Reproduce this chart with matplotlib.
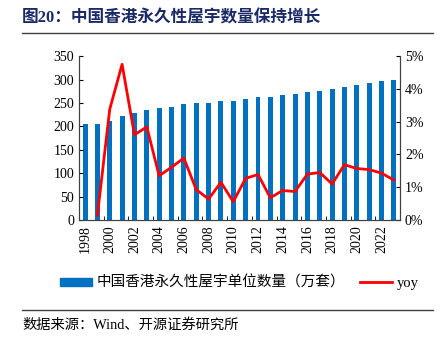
import matplotlib
matplotlib.use("Agg")
import matplotlib.pyplot as plt
from matplotlib.lines import Line2D
from matplotlib.patches import Patch
from matplotlib.ticker import FuncFormatter

plt.rcParams['font.family'] = ['Liberation Serif', 'Noto Sans CJK SC', 'DejaVu Sans']

years = list(range(1998, 2024))
stock = [205, 205, 212, 222, 228.5, 235, 238.5, 242, 247, 249, 250.5, 254, 255,
         258, 262, 263, 266, 269, 272.5, 276, 280, 284, 289, 293, 297, 300]
yoy_years = list(range(1999, 2024))
yoy = [0.14, 3.38, 4.75, 2.6, 2.84, 1.35, 1.61, 1.89, 0.93, 0.64, 1.15, 0.56, 1.27,
       1.39, 0.68, 0.9, 0.87, 1.40, 1.45, 1.10, 1.69, 1.57, 1.54, 1.43, 1.22]

bar_name = "中国香港永久性屋宇单位数量（万套）"
line_name = "yoy"
title = "图20：中国香港永久性屋宇数量保持增长"
source = "数据来源：Wind、开源证券研究所"

fig = plt.figure(figsize=(4.43, 3.38), dpi=100)
ax = fig.add_axes([0.178, 0.349, 0.725, 0.485])
ax2 = ax.twinx()

x = list(range(len(years)))
ax.bar(x, stock, width=0.4, color="#0070C0")
xi = [years.index(y) for y in yoy_years]
ax2.plot(xi, [v / 100 for v in yoy], color="#FF0000", lw=2)

ax.set_xlim(-0.5, len(years) - 0.5)
ax.set_ylim(0, 350)
ax.set_yticks(range(0, 351, 50))
ax2.set_ylim(0, 0.05)
ax2.set_yticks([i / 100 for i in range(6)])
ax2.yaxis.set_major_formatter(FuncFormatter(lambda v, p: f"{v*100:.0f}%"))

ax.set_xticks(x[::2])
ax.set_xticklabels([str(y) for y in years[::2]], rotation=90, fontsize=10)
ax.set_xticks([i + 1.5 for i in range(0, len(years) - 2, 2)], minor=True)
ax.tick_params(axis="x", which="major", length=0, pad=4)
ax.tick_params(axis="x", which="minor", direction="in", length=3)
ax.tick_params(axis="y", direction="in", length=3, labelsize=10)
ax2.tick_params(axis="y", direction="in", length=3, labelsize=10)

for a in (ax, ax2):
    a.spines["top"].set_visible(False)
    for s in ("left", "right", "bottom"):
        a.spines[s].set_color("#404040")
        a.spines[s].set_linewidth(0.8)

handles = [Patch(color="#0070C0"), Line2D([], [], color="#FF0000", lw=2)]
fig.legend(handles, [bar_name, line_name], loc="center", bbox_to_anchor=(0.54, 0.163),
           ncol=2, frameon=False, fontsize=10.5, handlelength=2.2, handleheight=0.45,
           columnspacing=1.0, handletextpad=0.3)

fig.text(0.05, 0.947, title, fontsize=12, fontweight="bold", color="#1A2A66",
         va="center", ha="left")
fig.add_artist(Line2D([0.05, 0.977], [0.902, 0.902], color="#404040", lw=1))
fig.add_artist(Line2D([0.05, 0.977], [0.083, 0.083], color="#404040", lw=1))
fig.text(0.05, 0.038, source, fontsize=10.3, va="center", ha="left")

fig.savefig("out.png", dpi=100)
